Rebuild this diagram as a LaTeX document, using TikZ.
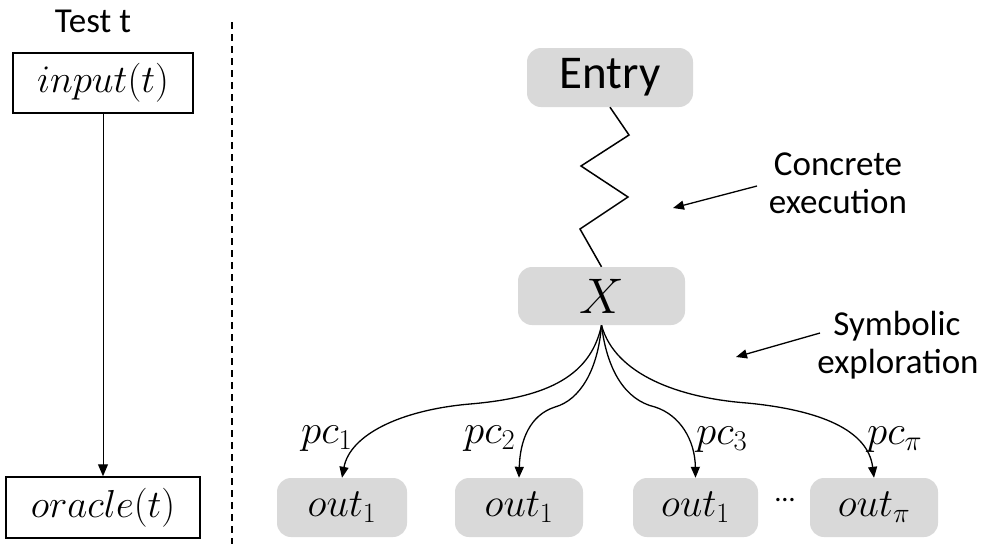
\RequirePackage{fix-cm}
\documentclass[tikz,border=0pt]{standalone}
\usepackage{fontspec}
\setsansfont{Carlito}
\usetikzlibrary{arrows.meta}
\begin{document}
\begin{tikzpicture}[x=1pt,y=-1pt,
  plainbox/.style={draw, line width=1.5pt, inner sep=0pt, font=\fontsize{39}{40}\selectfont},
  graybox/.style={fill=gray!30, rounded corners=14pt, inner sep=0pt},
  mathlbl/.style={inner sep=0pt, font=\fontsize{40}{42}\selectfont},
  pclbl/.style={inner sep=0pt, font=\fontsize{41}{42}\selectfont},
  sanslbl/.style={inner sep=0pt, font=\sffamily\fontsize{35}{38}\selectfont},
  arr/.style={line width=1.3pt, -{Triangle[length=11pt,width=9pt]}},
  thinarr/.style={line width=1pt, -{Triangle[length=12pt,width=10pt]}},
  zig/.style={line width=1.5pt, line join=miter}
]
\useasboundingbox (0,0) rectangle (990,544);
% left column
\node[sanslbl, anchor=base] (test) at (93,32) {Test t};
\node[plainbox, minimum width=180pt, minimum height=60pt] (input) at (103,83) {$input(t)$};
\node[plainbox, minimum width=194pt, minimum height=61pt] (oracle) at (103,507.5) {$oracle(t)$};
\draw[thinarr] (input.south) -- (oracle.north);
% separator
\coordinate (septop) at (232,22);
\coordinate (sepbot) at (232,544);
\draw[line width=1.5pt, dash pattern=on 7pt off 5pt] (septop) -- (sepbot);
% right part
\node[graybox, minimum width=166pt, minimum height=59pt, font=\sffamily\fontsize{47}{50}\selectfont] (entry) at (610,77.5) {Entry};
\node[graybox, minimum width=167pt, minimum height=58pt, font=\fontsize{50}{52}\selectfont] (X) at (601.5,296) {$X$};
\draw[zig] (entry.south) -- (629,135) -- (581,166) -- (628,197) -- (580,229) -- (X.north);
% outputs
\node[graybox, minimum width=130pt, minimum height=59pt, mathlbl] (o1) at (342,507.5) {$out_1$};
\node[graybox, minimum width=128pt, minimum height=59pt, mathlbl] (o2) at (519,507.5) {$out_1$};
\node[graybox, minimum width=125pt, minimum height=59pt, mathlbl] (o3) at (695.5,507.5) {$out_1$};
\node[graybox, minimum width=128pt, minimum height=59pt, mathlbl] (o4) at (874,507.5) {$out_\pi$};
\node[inner sep=0pt, font=\sffamily\fontsize{28}{30}\selectfont] (dots) at (785,500) {…};
% fan
\draw[arr] (X.south) .. controls (590,380) and (540,398) .. (470,404) .. controls (400,410) and (350,435) .. (o1.north);
\draw[arr] (X.south) .. controls (598,370) and (580,400) .. (555,407) .. controls (530,415) and (520,440) .. (o2.north);
\draw[arr] (X.south) .. controls (607,370) and (625,400) .. (655,407) .. controls (680,415) and (695,440) .. (o3.north);
\draw[arr] (X.south) .. controls (615,375) and (680,398) .. (747,403) .. controls (820,410) and (868,430) .. (o4.north);
% pc labels
\node[pclbl, anchor=base west] (pc1) at (301,443) {$pc_1$};
\node[pclbl, anchor=base west] (pc2) at (464,443) {$pc_2$};
\node[pclbl, anchor=base west] (pc3) at (696,444) {$pc_3$};
\node[pclbl, anchor=base west] (pc4) at (867,444) {$pc_\pi$};
% annotations
\node[sanslbl, anchor=base] (conc1) at (838,175) {Concrete};
\node[sanslbl, anchor=base] (conc2) at (838,213) {execution};
\coordinate (ca) at (757,186);
\coordinate (cb) at (673,208);
\draw[arr] (ca) -- (cb);
\node[sanslbl, anchor=base] (sym1) at (897,335) {Symbolic};
\node[sanslbl, anchor=base] (sym2) at (898,373) {exploration};
\coordinate (sa) at (820,333);
\coordinate (sb) at (736,357);
\draw[arr] (sa) -- (sb);
\end{tikzpicture}
\end{document}
